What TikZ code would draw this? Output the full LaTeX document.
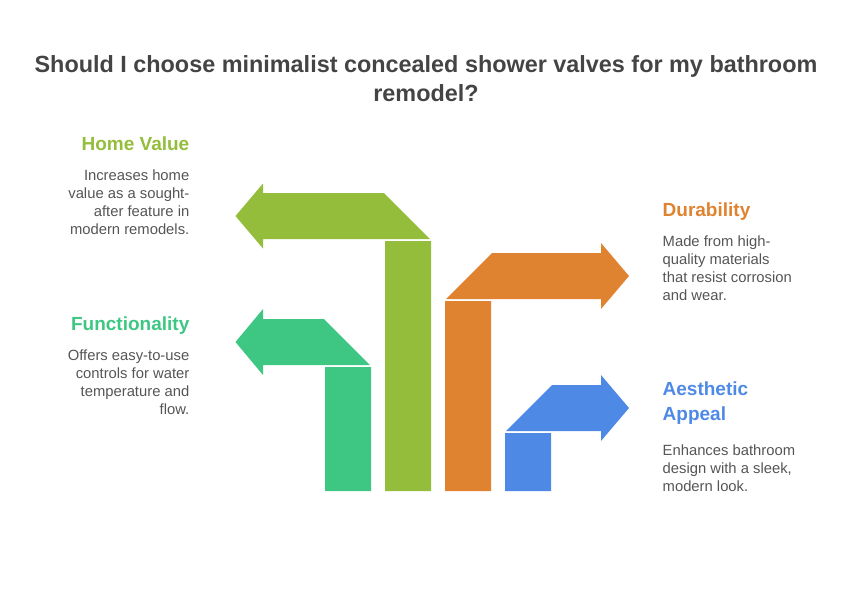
\documentclass[tikz,border=0pt]{standalone}
\usepackage{fontspec}
\setmainfont{Liberation Sans}
\usetikzlibrary{positioning}
\usepackage{tkz-euclide}
\definecolor{HomeClr}{RGB}{147,189,58}
\definecolor{DurableClr}{RGB}{223,131,49}
\definecolor{FunctionClr}{RGB}{62,198,131}
\definecolor{AppealClr}{RGB}{78,137,229}
\definecolor{TitleClr}{RGB}{68,68,68}
\definecolor{BodyClr}{RGB}{85,85,85}
\tikzset{
  headtxt/.style={font=\bfseries\fontsize{19}{25}\selectfont,inner sep=0pt},
  bodytxt/.style={text=BodyClr,font=\fontsize{14.8}{18}\selectfont,inner sep=0pt}
}

\begin{document}
\begin{tikzpicture}[x=1pt,y=-1pt]
\useasboundingbox (0,0) rectangle (852,600);

\tkzDefPoints{385/241/H1,431/241/H2,431/491/H3,385/491/H4}
\tkzDefPoints{430/239/H5,384/193/H6,263/193/H7,263/183.5/H8,235.5/216/H9,263/248.5/H10,263/239/H11}

\tkzDefPoints{445/301/D1,491/301/D2,491/491/D3,445/491/D4}
\tkzDefPoints{446/299/D5,492/253/D6,601/253/D7,601/243/D8,629/276/D9,601/309/D10,601/299/D11}

\tkzDefPoints{325/367/F1,371/367/F2,371/491/F3,325/491/F4}
\tkzDefPoints{370/365/F5,324/319/F6,263/319/F7,263/309/F8,235.5/342/F9,263/375/F10,263/365/F11}

\tkzDefPoints{505/433/A1,551/433/A2,551/491/A3,505/491/A4}
\tkzDefPoints{506/431/A5,552/385/A6,601/385/A7,601/375/A8,629/408/A9,601/441/A10,601/431/A11}

\tkzFillPolygon[fill=HomeClr](H1,H2,H3,H4)
\tkzFillPolygon[fill=HomeClr](H5,H6,H7,H8,H9,H10,H11)
\tkzFillPolygon[fill=DurableClr](D1,D2,D3,D4)
\tkzFillPolygon[fill=DurableClr](D5,D6,D7,D8,D9,D10,D11)
\tkzFillPolygon[fill=FunctionClr](F1,F2,F3,F4)
\tkzFillPolygon[fill=FunctionClr](F5,F6,F7,F8,F9,F10,F11)
\tkzFillPolygon[fill=AppealClr](A1,A2,A3,A4)
\tkzFillPolygon[fill=AppealClr](A5,A6,A7,A8,A9,A10,A11)

\node[text=TitleClr,font=\bfseries\fontsize{23.4}{29}\selectfont,align=center,anchor=base] (title) at (426,101.7)
  {Should I choose minimalist concealed shower valves for my bathroom\\remodel?};

\node[headtxt,text=HomeClr,anchor=base east] (homehead) at (189.5,150.7) {Home Value};
\node[bodytxt,align=right,anchor=base east] (homebody) at (189.5,234.7)
  {Increases home\\value as a sought-\\after feature in\\modern remodels.};

\node[headtxt,text=FunctionClr,anchor=base east] (funchead) at (189.5,330.7) {Functionality};
\node[bodytxt,align=right,anchor=base east] (funcbody) at (189.5,414.7)
  {Offers easy-to-use\\controls for water\\temperature and\\flow.};

\node[headtxt,text=DurableClr,anchor=base west] (durhead) at (662.5,216.7) {Durability};
\node[bodytxt,align=left,anchor=base west] (durbody) at (662.5,300.7)
  {Made from high-\\quality materials\\that resist corrosion\\and wear.};

\node[headtxt,text=AppealClr,align=left,anchor=base west] (apphead) at (662.5,420.7) {Aesthetic\\Appeal};
\node[bodytxt,align=left,anchor=base west] (appbody) at (662.5,491)
  {Enhances bathroom\\design with a sleek,\\modern look.};

\end{tikzpicture}
\end{document}
